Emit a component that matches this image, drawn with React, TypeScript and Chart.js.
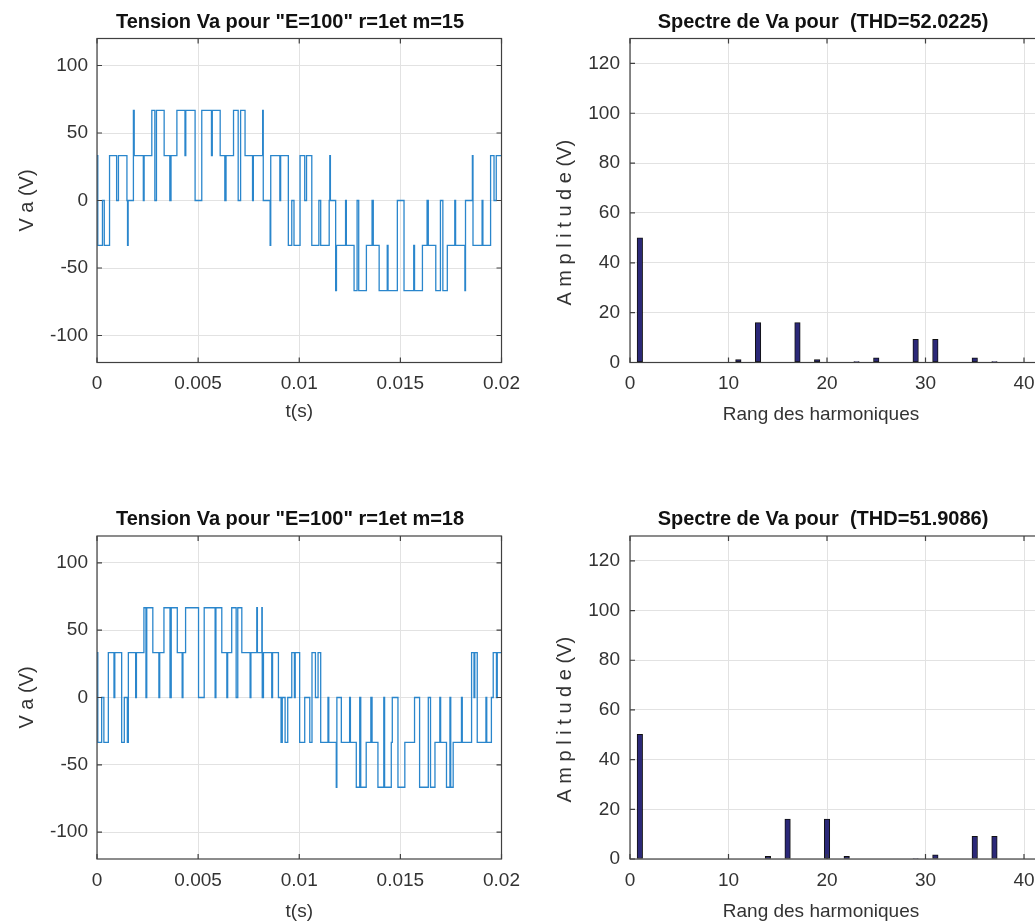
import React, { useEffect, useRef } from 'react';
import { Chart, registerables } from 'chart.js';

Chart.register(...registerables);

const FONT = '"Liberation Sans", Arial, Helvetica, sans-serif';
const TEXT = '#333333';
const GRID = '#e2e2e2';
const BOX = '#404040';
const WAVE = '#2a86cc';
const BAR = '#2b2878';

// Phase voltage Va, transitions: [time (ms), Va (V)]
const waveM15: [number, number][] = [
  [0, 33.3], [0.04, -33.3], [0.27, 0], [0.36, -33.3], [0.62, 33.3], [0.97, 0], [1.06, 33.3],
  [1.48, 0], [1.51, -33.3], [1.54, 0], [1.8, 66.7], [1.84, 33.3], [2.29, 0], [2.33, 33.3],
  [2.71, 66.7], [2.86, 0], [2.94, 66.7], [3.32, 33.3], [3.6, 0], [3.66, 33.3], [3.95, 66.7],
  [4.35, 33.3], [4.39, 66.7], [4.85, 0], [5.18, 66.7], [5.66, 33.3], [5.7, 66.7], [6.09, 33.3],
  [6.32, 0], [6.38, 33.3], [6.75, 66.7], [6.98, 0], [7.1, 66.7], [7.32, 33.3], [7.69, 0],
  [7.73, 33.3], [8.19, 66.7], [8.22, 0], [8.56, -33.3], [8.59, 33.3], [9.04, 0], [9.08, 33.3],
  [9.46, -33.3], [9.63, 0], [9.74, -33.3],
  [10.04, 33.3], [10.27, 0], [10.36, 33.3], [10.62, -33.3], [10.97, 0], [11.06, -33.3],
  [11.48, 0], [11.51, 33.3], [11.54, 0], [11.8, -66.7], [11.84, -33.3], [12.29, 0], [12.33, -33.3],
  [12.71, -66.7], [12.86, 0], [12.94, -66.7], [13.32, -33.3], [13.6, 0], [13.66, -33.3],
  [13.95, -66.7], [14.35, -33.3], [14.39, -66.7], [14.85, 0], [15.18, -66.7], [15.66, -33.3],
  [15.7, -66.7], [16.09, -33.3], [16.32, 0], [16.38, -33.3], [16.75, -66.7], [16.98, 0],
  [17.1, -66.7], [17.32, -33.3], [17.69, 0], [17.73, -33.3], [18.19, -66.7], [18.22, 0],
  [18.56, 33.3], [18.59, -33.3], [19.04, 0], [19.08, -33.3], [19.46, 33.3], [19.63, 0],
  [19.74, 33.3], [20, 33.3],
];

const waveM18: [number, number][] = [
  [0, 33.3], [0.04, -33.3], [0.23, 0], [0.34, -33.3], [0.56, 33.3], [0.84, 0], [0.88, 33.3],
  [1.22, -33.3], [1.35, 0], [1.5, -33.3], [1.55, 33.3], [1.91, 0], [1.95, 33.3], [2.32, 66.7],
  [2.42, 0], [2.46, 66.7], [2.76, 33.3], [3.06, 0], [3.1, 33.3], [3.31, 66.7], [3.61, 0],
  [3.67, 66.7], [3.97, 33.3], [4.21, 0], [4.25, 33.3], [4.38, 66.7], [5.02, 0], [5.3, 66.7],
  [5.84, 0], [5.88, 66.7], [6.17, 33.3], [6.42, 0], [6.46, 33.3], [6.66, 66.7], [6.88, 0],
  [6.96, 66.7], [7.16, 33.3], [7.57, 0], [7.61, 33.3], [7.9, 66.7], [7.93, 33.3], [8.15, 66.7],
  [8.17, 0], [8.23, 33.3], [8.64, 0], [8.68, 33.3], [8.97, 0], [9.1, -33.3], [9.16, 0],
  [9.3, -33.3], [9.43, 0], [9.63, 33.3], [9.76, 0], [9.8, 33.3],
  [10.02, -33.3], [10.27, 0], [10.52, -33.3], [10.63, 33.3], [10.8, 0], [10.93, 33.3],
  [11.06, -33.3], [11.42, 0], [11.46, -33.3], [11.83, -66.7], [11.86, 0], [12.08, -33.3],
  [12.49, 0], [12.53, -33.3], [12.82, -66.7], [12.99, 0], [13.04, -66.7], [13.31, -33.3],
  [13.54, 0], [13.6, -33.3], [13.89, -66.7], [14.18, 0], [14.22, -66.7], [14.55, -33.3],
  [14.6, 0], [14.88, -66.7], [15.22, -33.3], [15.7, 0], [15.95, -66.7], [16.38, 0],
  [16.49, -66.7], [16.71, -33.3], [16.95, 0], [16.99, -33.3], [17.28, -66.7], [17.45, 0],
  [17.49, -66.7], [17.61, -33.3], [18.02, 0], [18.06, -33.3], [18.52, 33.3], [18.64, 0],
  [18.68, 33.3], [18.8, -33.3], [19.23, 0], [19.27, -33.3], [19.5, 0], [19.59, 33.3],
  [19.75, 0], [19.79, 33.3], [20, 33.3],
];

// Harmonic spectra
const spec15Ranks = [1, 11, 13, 17, 19, 23, 25, 29, 31, 35, 37];
const spec15Amps = [50.0, 1.2, 16.0, 16.0, 1.2, 0.4, 1.9, 9.3, 9.3, 1.9, 0.4];
const spec18Ranks = [1, 14, 16, 20, 22, 29, 31, 35, 37];
const spec18Amps = [50.2, 1.1, 16.1, 16.1, 1.1, 0.2, 1.7, 9.1, 9.1];

// Ticks
const timeTicks = [0, 0.005, 0.01, 0.015, 0.02];
const timeTickLabels = ['0', '0.005', '0.01', '0.015', '0.02'];
const voltTicks = [-100, -50, 0, 50, 100];
const rankTicks = [0, 10, 20, 30, 40];
const ampTicks = [0, 20, 40, 60, 80, 100, 120];

const titleM15 = 'Tension Va pour "E=100" r=1et m=15';
const titleM18 = 'Tension Va pour "E=100" r=1et m=18';
const titleSpec15 = 'Spectre de Va pour  (THD=52.0225)';
const titleSpec18 = 'Spectre de Va pour  (THD=51.9086)';

const boxPlugin = {
  id: 'boxTicks',
  afterDraw(chart: any) {
    const { ctx, chartArea: a, scales } = chart;
    ctx.save();
    ctx.strokeStyle = BOX;
    ctx.lineWidth = 1.2;
    const L = 5;
    ctx.beginPath();
    scales.x.ticks.forEach((t: any) => {
      const px = scales.x.getPixelForValue(t.value);
      ctx.moveTo(px, a.bottom);
      ctx.lineTo(px, a.bottom - L);
      ctx.moveTo(px, a.top);
      ctx.lineTo(px, a.top + L);
    });
    scales.y.ticks.forEach((t: any) => {
      const py = scales.y.getPixelForValue(t.value);
      ctx.moveTo(a.left, py);
      ctx.lineTo(a.left + L, py);
      ctx.moveTo(a.right, py);
      ctx.lineTo(a.right - L, py);
    });
    ctx.stroke();
    ctx.strokeRect(a.left, a.top, a.right - a.left, a.bottom - a.top);
    ctx.restore();
  },
};

function titlePlugin(text: string, x: number, y: number) {
  return {
    id: 'panelTitle',
    afterDraw(chart: any) {
      const ctx = chart.ctx;
      ctx.save();
      ctx.font = `bold 20px ${FONT}`;
      ctx.fillStyle = '#111111';
      ctx.textAlign = 'center';
      ctx.textBaseline = 'middle';
      ctx.fillText(text, x, y);
      ctx.restore();
    },
  };
}

type Geo = {
  left: number; top: number; width: number; height: number;
  padTop: number; padRight: number; yW: number; xH: number;
  titleX: number; titleY: number; xTitlePad: number; yTitlePad: number;
};

const geoTL: Geo = { left: 0, top: 0, width: 530, height: 440, padTop: 38.5, padRight: 28, yW: 97, xH: 77.5, titleX: 290, titleY: 22, xTitlePad: 16.6, yTitlePad: 15 };
const geoTR: Geo = { left: 530, top: 0, width: 530, height: 440, padTop: 38.5, padRight: 16.3, yW: 100, xH: 77.5, titleX: 293, titleY: 22, xTitlePad: 13.6, yTitlePad: 23 };
const geoBL: Geo = { left: 0, top: 480, width: 530, height: 443, padTop: 56, padRight: 28, yW: 97, xH: 64, titleX: 290, titleY: 39, xTitlePad: 0, yTitlePad: 15 };
const geoBR: Geo = { left: 530, top: 480, width: 530, height: 443, padTop: 56, padRight: 16.3, yW: 100, xH: 64, titleX: 293, titleY: 39, xTitlePad: 0, yTitlePad: 23 };

const tickFont = { family: FONT, size: 19 };

function baseScales(g: Geo, xTicks: number[], xLabels: string[], yTicks: number[], xMin: number, xMax: number, yMin: number, yMax: number, xTitle: string, yTitle: string, yPad: number) {
  return {
    x: {
      type: 'linear',
      min: xMin,
      max: xMax,
      offset: false,
      afterBuildTicks: (s: any) => { s.ticks = xTicks.map((v) => ({ value: v })); },
      afterFit: (s: any) => { s.height = g.xH; },
      ticks: { callback: (_v: any, i: number) => xLabels[i], font: tickFont, color: TEXT, padding: 10, maxRotation: 0, autoSkip: false },
      grid: { color: GRID, lineWidth: 1, drawTicks: false, offset: false },
      border: { display: false },
      title: { display: true, text: xTitle, font: { family: FONT, size: 19 }, color: TEXT, padding: { top: 0, bottom: g.xTitlePad } },
    },
    y: {
      type: 'linear',
      min: yMin,
      max: yMax,
      afterBuildTicks: (s: any) => { s.ticks = yTicks.map((v) => ({ value: v })); },
      afterFit: (s: any) => { s.width = g.yW; },
      ticks: { callback: (v: any) => String(v), font: tickFont, color: TEXT, padding: yPad, autoSkip: false },
      grid: { color: GRID, lineWidth: 1, drawTicks: false },
      border: { display: false },
      title: { display: true, text: yTitle, font: { family: FONT, size: 20 }, color: TEXT, padding: { top: g.yTitlePad, bottom: 0 } },
    },
  };
}

function waveConfig(wave: [number, number][], title: string, g: Geo): any {
  return {
    type: 'line',
    data: {
      datasets: [{
        data: wave.map(([t, v]) => ({ x: t / 1000, y: v })),
        borderColor: WAVE,
        borderWidth: 1.3,
        pointRadius: 0,
        stepped: 'before',
        fill: false,
      }],
    },
    options: {
      animation: false,
      responsive: false,
      maintainAspectRatio: false,
      events: [],
      layout: { padding: { top: g.padTop, right: g.padRight, left: 0, bottom: 0 } },
      plugins: { legend: { display: false }, tooltip: { enabled: false }, title: { display: false } },
      scales: baseScales(g, timeTicks, timeTickLabels, voltTicks, 0, 0.02, -120, 120, 't(s)', 'V a (V)', 9),
    },
    plugins: [boxPlugin, titlePlugin(title, g.titleX, g.titleY)],
  };
}

function specConfig(ranks: number[], amps: number[], title: string, g: Geo): any {
  return {
    type: 'bar',
    data: {
      datasets: [{
        data: ranks.map((r, i) => ({ x: r, y: amps[i] })),
        backgroundColor: BAR,
        borderColor: '#111111',
        borderWidth: 1,
        borderSkipped: false,
        barThickness: 5.5,
      }],
    },
    options: {
      animation: false,
      responsive: false,
      maintainAspectRatio: false,
      events: [],
      layout: { padding: { top: g.padTop, right: g.padRight, left: 0, bottom: 0 } },
      plugins: { legend: { display: false }, tooltip: { enabled: false }, title: { display: false } },
      scales: baseScales(g, rankTicks, rankTicks.map(String), ampTicks, 0, 42, 0, 130,
        'Rang des harmoniques      ', 'A m p l i t u d e (V)        ', 10),
    },
    plugins: [boxPlugin, titlePlugin(title, g.titleX, g.titleY)],
  };
}

const panels: { geo: Geo; make: () => any }[] = [
  { geo: geoTL, make: () => waveConfig(waveM15, titleM15, geoTL) },
  { geo: geoTR, make: () => specConfig(spec15Ranks, spec15Amps, titleSpec15, geoTR) },
  { geo: geoBL, make: () => waveConfig(waveM18, titleM18, geoBL) },
  { geo: geoBR, make: () => specConfig(spec18Ranks, spec18Amps, titleSpec18, geoBR) },
];

export default function App() {
  const refs = useRef<(HTMLCanvasElement | null)[]>([]);

  useEffect(() => {
    const charts = panels.map((p, i) => new Chart(refs.current[i] as HTMLCanvasElement, p.make()));
    return () => charts.forEach((c) => c.destroy());
  }, []);

  return (
    <div style={{ position: 'fixed', left: 0, top: 0, width: 1035, height: 923, overflow: 'hidden', background: '#ffffff' }}>
      {panels.map((p, i) => (
        <canvas
          key={i}
          ref={(el) => { refs.current[i] = el; }}
          width={p.geo.width}
          height={p.geo.height}
          style={{ position: 'absolute', left: p.geo.left, top: p.geo.top, width: p.geo.width, height: p.geo.height }}
        />
      ))}
    </div>
  );
}
